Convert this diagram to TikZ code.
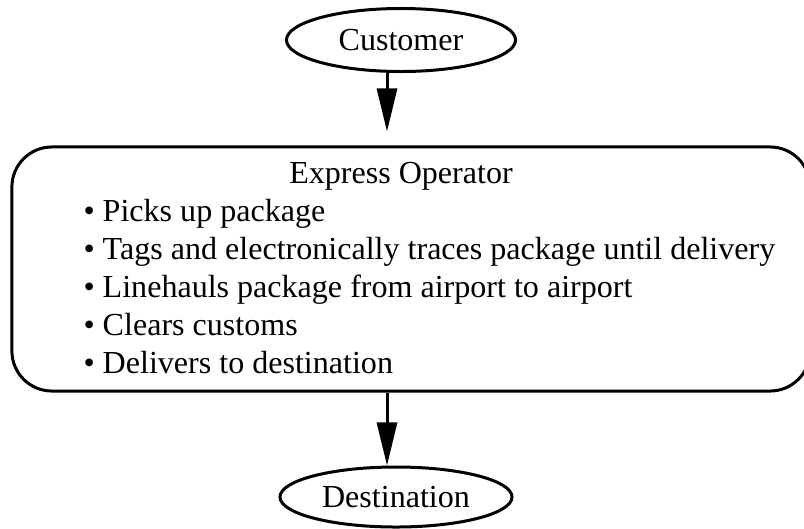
\documentclass[tikz,border=0pt]{standalone}
\usepackage{fontspec}
\setmainfont{Liberation Serif}
\usetikzlibrary{shapes.geometric,arrows.meta}

\begin{document}
\begin{tikzpicture}[x=0.025cm,y=-0.025cm,line width=0.075cm,
  font=\fontsize{22.8}{27}\selectfont,
  endpoint/.style={ellipse,draw,inner sep=0pt},
  opbox/.style={draw,rounded corners=1cm,minimum width=19.95cm,minimum height=6.1cm},
  itemline/.style={anchor=base west,inner sep=0pt},
  flow/.style={-{Triangle[length=1.075cm,width=0.5cm]}}
]
  % ----- page frame -----
  \useasboundingbox (0,0) rectangle (804,528);

  % ----- end points -----
  \node[endpoint,minimum width=5.725cm,minimum height=1.575cm] (cust) at (401,40) {Customer};
  \node[endpoint,minimum width=5.8cm,minimum height=1.5cm] (dest) at (396,497) {Destination};

  % ----- operator box -----
  \node[opbox] (op) at (411,269) {};
  \node[anchor=base,inner sep=0pt] (optitle) at (401,183) {Express Operator};
  \foreach \t [count=\i] in {Picks up package,
      Tags and electronically traces package until delivery,
      Linehauls package from airport to airport,
      Clears customs,
      Delivers to destination}
    \node[itemline] (item\i) at (82,{183+38*\i}) {\textbullet\ \t};

  % ----- arrows -----
  \coordinate (ax) at (387,0);
  \draw[flow,shorten >=0.35cm] (cust.south -| ax) -- (op.north -| ax);
  \draw[flow] (op.south -| ax) -- (dest.north -| ax);
\end{tikzpicture}
\end{document}
